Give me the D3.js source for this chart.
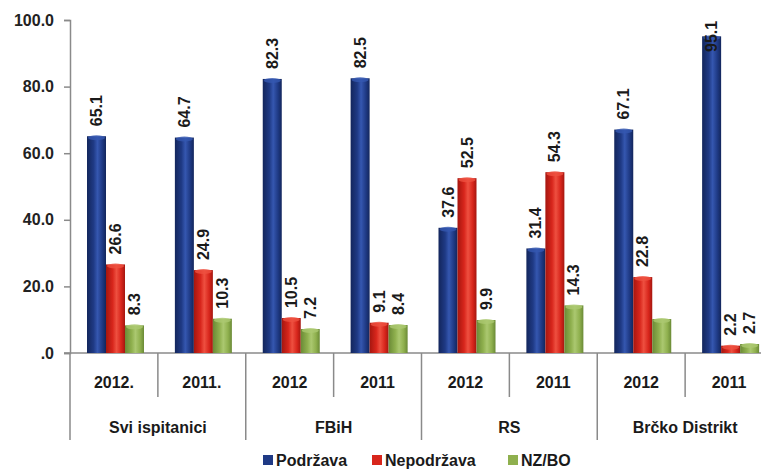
<!DOCTYPE html>
<html><head><meta charset="utf-8">
<script src="https://cdn.jsdelivr.net/npm/d3@7"></script>
<style>
html,body{margin:0;padding:0;background:#fff;overflow:hidden}
svg{display:block;font-family:"Liberation Sans",Arial,sans-serif;font-weight:bold}
</style></head><body>
<svg id="c" width="761" height="470"></svg>
<script>
const groups = ["Svi ispitanici","FBiH","RS","Brčko Distrikt"];
const years = ["2012.","2011.","2012","2011","2012","2011","2012","2011"];
const seriesNames = ["Podržava","Nepodržava","NZ/BO"];
const podrzava   = [65.1,64.7,82.3,82.5,37.6,31.4,67.1,95.1];
const nepodrzava = [26.6,24.9,10.5,9.1,52.5,54.3,22.8,2.2];
const nzbo       = [8.3,10.3,7.2,8.4,9.9,14.3,10.2,2.7];
const hiddenLabels = [[2,6]]; // [series, category] without a value label
const yTicks = [0,20,40,60,80,100];
const colors = ["#1f3a85","#d8261c","#8fb04e"];
const dark = ["#13265c","#a5160f","#6a8a36"];
const light = ["#3557b0","#ee5040","#abc870"];

const svg = d3.select("#c");
const x = d3.scaleBand().domain(d3.range(years.length)).range([70,773]).padding(0);
const xs = d3.scaleBand().domain([0,1,2]).range([17,74]).padding(0);
const y = d3.scaleLinear().domain([0,100]).range([353,20]);

const defs = svg.append("defs");
colors.forEach((c,i)=>{
  const g = defs.append("linearGradient").attr("id","g"+i).attr("x1","0").attr("x2","1").attr("y1","0").attr("y2","0");
  g.append("stop").attr("offset","0%").attr("stop-color",dark[i]);
  g.append("stop").attr("offset","35%").attr("stop-color",c);
  g.append("stop").attr("offset","55%").attr("stop-color",light[i]);
  g.append("stop").attr("offset","80%").attr("stop-color",c);
  g.append("stop").attr("offset","100%").attr("stop-color",dark[i]);
});

// y axis
const yAxis = d3.axisLeft(y).tickValues(yTicks).tickSize(6).tickPadding(10)
  .tickFormat(d => d===0 ? ".0" : d3.format(".1f")(d));
const ya = svg.append("g").attr("transform","translate(70,0)").call(yAxis);
ya.select(".domain").attr("stroke","#8a8a8a").attr("stroke-width",1.5);
ya.selectAll(".tick line").attr("stroke","#8a8a8a").attr("stroke-width",1.5);
ya.selectAll(".tick text").attr("font-size",16).attr("font-weight","bold").attr("fill","#222").attr("font-family","Liberation Sans, Arial, sans-serif");

// x axis line
svg.append("line").attr("x1",64).attr("x2",773).attr("y1",y(0)).attr("y2",y(0)).attr("stroke","#8a8a8a").attr("stroke-width",1.5);
// left axis extension
svg.append("line").attr("x1",70).attr("x2",70).attr("y1",y(0)).attr("y2",440).attr("stroke","#8a8a8a").attr("stroke-width",1.5);
// separators
d3.range(1,years.length+1).forEach(i=>{
  const xx = x(0) + i*x.bandwidth();
  svg.append("line").attr("x1",xx).attr("x2",xx).attr("y1",y(0)).attr("y2", i%2===0 ? 440 : 397)
    .attr("stroke","#8a8a8a").attr("stroke-width",1.5);
});

const series = [podrzava,nepodrzava,nzbo];
series.forEach((vals,si)=>{
  svg.append("g").selectAll("rect").data(vals).join("rect")
    .attr("x",(d,i)=>x(i)+xs(si)).attr("width",xs.bandwidth())
    .attr("y",d=>y(d)).attr("height",d=>y(0)-y(d))
    .attr("fill","url(#g"+si+")");
  // top caps
  svg.append("g").selectAll("ellipse").data(vals).join("ellipse")
    .attr("cx",(d,i)=>x(i)+xs(si)+xs.bandwidth()/2).attr("cy",d=>y(d)+1.5)
    .attr("rx",xs.bandwidth()/2-1).attr("ry",2.5).attr("fill",light[si]).attr("opacity",0.8);
  // labels
  svg.append("g").selectAll("text").data(vals.map((v,i)=>({v,i})).filter(o=>!hiddenLabels.some(h=>h[0]===si&&h[1]===o.i)))
    .join("text")
    .attr("transform",o=>{
      const cx = x(o.i)+xs(si)+xs.bandwidth()/2;
      const cy = Math.max(y(o.v)-10, 52);
      return `translate(${cx},${cy}) rotate(-90)`;
    })
    .attr("dominant-baseline","central").attr("text-anchor","start")
    .attr("font-size",16).attr("fill","#1a1a1a")
    .text(o=>d3.format(".1f")(o.v));
});

// year labels
svg.append("g").selectAll("text").data(years).join("text")
  .attr("x",(d,i)=>x(i)+x.bandwidth()/2).attr("y",388)
  .attr("text-anchor","middle").attr("font-size",16).attr("fill","#1a1a1a").text(d=>d);
// group labels
svg.append("g").selectAll("text").data(groups).join("text")
  .attr("x",(d,i)=>x(i*2)+x.bandwidth()).attr("y",433)
  .attr("text-anchor","middle").attr("font-size",16).attr("fill","#1a1a1a").text(d=>d);

// legend
const legX = [263,372,508];
const lg = svg.append("g");
seriesNames.forEach((n,i)=>{
  lg.append("rect").attr("x",legX[i]).attr("y",455).attr("width",10).attr("height",10).attr("fill",colors[i]);
  lg.append("text").attr("x",legX[i]+13).attr("y",466).attr("font-size",16).attr("fill","#1a1a1a").text(n);
});
</script>
</body></html>
